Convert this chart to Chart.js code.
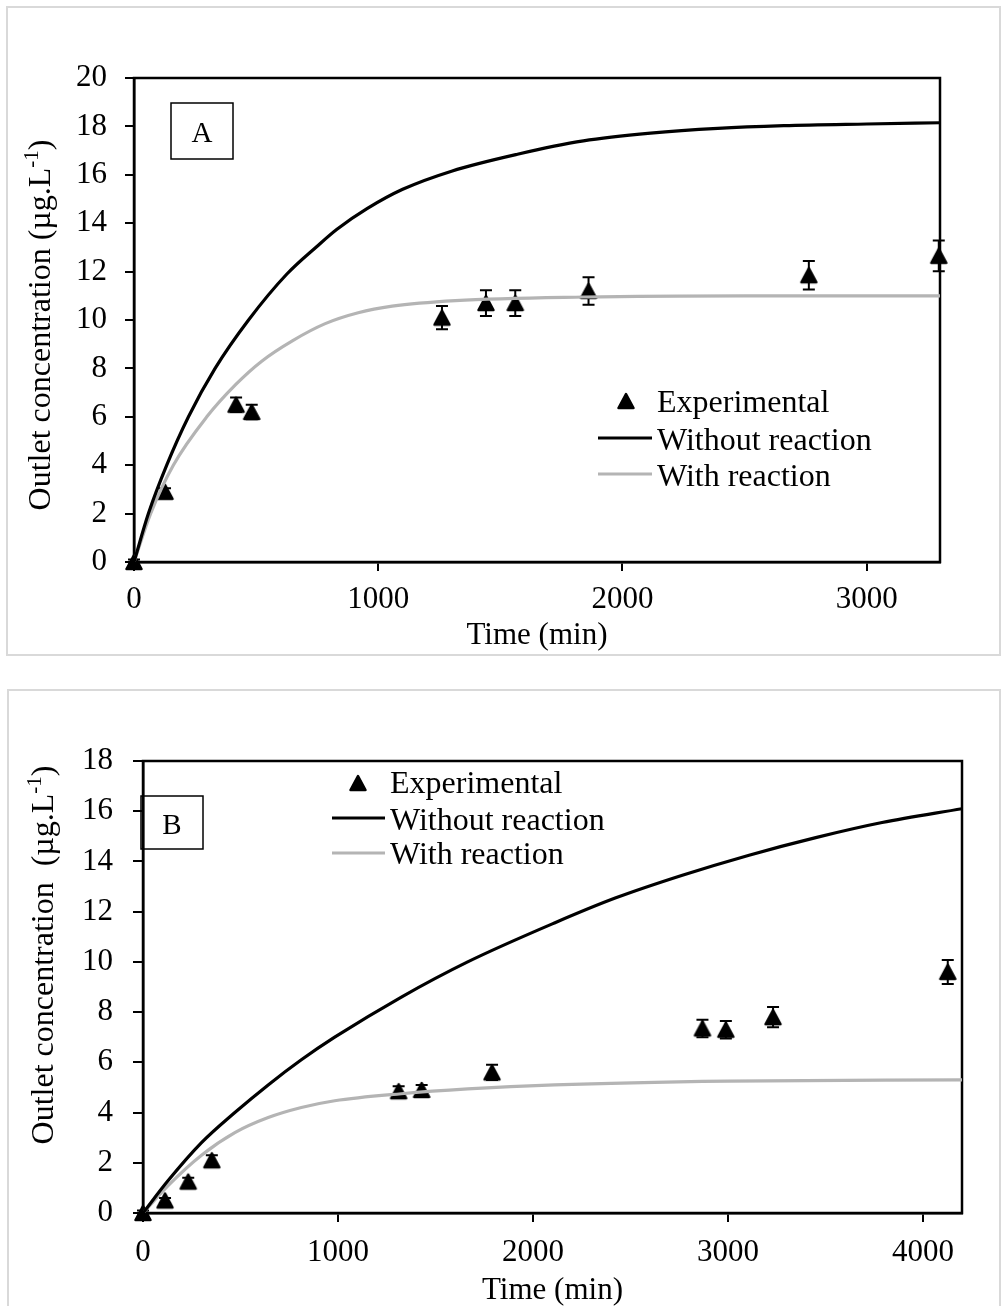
<!DOCTYPE html>
<html>
<head>
<meta charset="utf-8">
<script src="https://cdn.jsdelivr.net/npm/chart.js@4.4.1/dist/chart.umd.min.js"></script>
<style>
  html, body { margin: 0; padding: 0; background: #fff; overflow: hidden; }
  body { width: 1003px; height: 1306px; position: relative; }
  .frame { position: absolute; border: 2px solid #d9d9d9; box-sizing: border-box; }
  #frameA { left: 6px; top: 6px; width: 995px; height: 650px; }
  #frameB { left: 7px; top: 689px; width: 994px; height: 640px; }
  canvas { position: absolute; left: 0; }
  #chartA { top: 0; }
  #chartB { top: 680px; }
</style>
</head>
<body>
<div class="frame" id="frameA"></div>
<div class="frame" id="frameB"></div>
<canvas id="chartA" width="1003" height="670"></canvas>
<canvas id="chartB" width="1003" height="640"></canvas>
<script>
// --- Panel A data ---
const xTicksA = [0, 1000, 2000, 3000];
const yTicksA = [0, 2, 4, 6, 8, 10, 12, 14, 16, 18, 20];
const expTimeA = [0, 127, 418, 482, 1261, 1441, 1561, 1861, 2763, 3295];
const expConcA = [0, 2.9, 6.5, 6.2, 10.1, 10.7, 10.7, 11.2, 11.85, 12.65];
const expErrA  = [0.1, 0.15, 0.3, 0.3, 0.48, 0.53, 0.53, 0.57, 0.59, 0.64];
const noRxTimeA = [0, 59, 134, 223, 332, 469, 626, 750, 831, 954, 1100, 1300, 1570, 1840, 2115, 2390, 2660, 3000, 3300];
const noRxConcA = [0, 2.0, 4.0, 6.0, 8.0, 10.0, 11.9, 13.05, 13.75, 14.6, 15.4, 16.15, 16.85, 17.4, 17.72, 17.92, 18.03, 18.1, 18.15];
const rxTimeA = [0, 68, 161, 298, 418, 523, 650, 783, 918, 1057, 1316, 1841, 2500, 3300];
const rxConcA = [0, 2.0, 4.0, 6.0, 7.35, 8.3, 9.15, 9.85, 10.3, 10.57, 10.8, 10.95, 11.0, 11.0];

// --- Panel B data ---
const xTicksB = [0, 1000, 2000, 3000, 4000];
const yTicksB = [0, 2, 4, 6, 8, 10, 12, 14, 16, 18];
const expTimeB = [0, 113, 232, 353, 1311, 1429, 1790, 2869, 2989, 3231, 4127];
const expConcB = [0, 0.5, 1.25, 2.1, 4.85, 4.9, 5.6, 7.35, 7.3, 7.8, 9.6];
const expErrB  = [0.1, 0.1, 0.15, 0.2, 0.2, 0.2, 0.3, 0.35, 0.35, 0.4, 0.48];
const noRxTimeB = [0, 130, 300, 471, 642, 812, 983, 1325, 1665, 2110, 2425, 2766, 3108, 3450, 3790, 4200];
const noRxConcB = [0, 1.3, 2.8, 4.0, 5.1, 6.1, 7.0, 8.6, 10.0, 11.55, 12.55, 13.45, 14.25, 14.95, 15.55, 16.1];
const rxTimeB = [0, 130, 300, 471, 642, 812, 983, 1325, 1665, 2110, 3000, 4200];
const rxConcB = [0, 1.1, 2.3, 3.2, 3.8, 4.2, 4.47, 4.75, 4.94, 5.1, 5.25, 5.3];

const legendLabels = ['Experimental', 'Without reaction', 'With reaction'];
const SERIF = "'Liberation Serif', 'Times New Roman', serif";
const GREY = '#b4b4b4';

// triangle marker, centred in its own little canvas
const tri = document.createElement('canvas');
tri.width = 22; tri.height = 20;
(() => {
  const c = tri.getContext('2d');
  c.fillStyle = '#000'; c.strokeStyle = '#000';
  c.lineWidth = 2.5; c.lineJoin = 'round';
  c.beginPath();
  c.moveTo(11, 3); c.lineTo(18.5, 17); c.lineTo(3.5, 17); c.closePath();
  c.fill(); c.stroke();
})();

const pairs = (xs, ys) => xs.map((v, i) => ({ x: v, y: ys[i] }));

function makeDecor(p) {
  return {
    id: 'decor',
    beforeDatasetsDraw(chart) {
      const { ctx, chartArea: a, scales: { x, y } } = chart;
      ctx.save();
      ctx.strokeStyle = '#000';
      ctx.lineWidth = 2.5;
      ctx.strokeRect(a.left, a.top, a.right - a.left, a.bottom - a.top);
      // error bars
      ctx.lineWidth = 2;
      p.expT.forEach((t, i) => {
        const px = x.getPixelForValue(t);
        const top = y.getPixelForValue(p.expC[i] + p.expErr[i]);
        const bot = y.getPixelForValue(p.expC[i] - p.expErr[i]);
        ctx.beginPath();
        ctx.moveTo(px, top); ctx.lineTo(px, bot);
        ctx.moveTo(px - 6, top); ctx.lineTo(px + 6, top);
        ctx.moveTo(px - 6, bot); ctx.lineTo(px + 6, bot);
        ctx.stroke();
      });
      ctx.restore();
    },
    afterDraw(chart) {
      const ctx = chart.ctx;
      const L = p.legend;
      ctx.save();
      ctx.fillStyle = '#000';
      ctx.font = '32px ' + SERIF;
      ctx.textBaseline = 'alphabetic';
      ctx.textAlign = 'left';
      // legend
      ctx.drawImage(tri, L.triX - tri.width / 2, L.triY - tri.height / 2);
      ctx.lineWidth = 3.2;
      ctx.strokeStyle = '#000';
      ctx.beginPath(); ctx.moveTo(L.x0, L.lineY[0]); ctx.lineTo(L.x1, L.lineY[0]); ctx.stroke();
      ctx.strokeStyle = GREY;
      ctx.beginPath(); ctx.moveTo(L.x0, L.lineY[1]); ctx.lineTo(L.x1, L.lineY[1]); ctx.stroke();
      legendLabels.forEach((s, i) => ctx.fillText(s, L.textX, L.base[i]));

      // panel letter box
      const b = p.box;
      ctx.strokeStyle = '#000';
      ctx.lineWidth = 1.5;
      ctx.strokeRect(b.x, b.y, b.w, b.h);
      ctx.font = '29px ' + SERIF;
      ctx.textAlign = 'center';
      ctx.fillText(b.letter, b.x + b.w / 2, b.y + b.h / 2 + 11);

      // y axis title with superscript
      const yt = p.yTitle;
      ctx.translate(yt.x, yt.cy);
      ctx.rotate(-Math.PI / 2);
      ctx.textAlign = 'left';
      const big = '32px ' + SERIF, small = '21px ' + SERIF;
      ctx.font = big;
      const w1 = ctx.measureText(yt.main).width;
      const w3 = ctx.measureText(')').width;
      ctx.font = small;
      const w2 = ctx.measureText('-1').width;
      let sx = -(w1 + w2 + w3) / 2;
      ctx.font = big; ctx.fillText(yt.main, sx, 0); sx += w1;
      ctx.font = small; ctx.fillText('-1', sx, -12); sx += w2;
      ctx.font = big; ctx.fillText(')', sx, 0);
      ctx.restore();
    }
  };
}

function buildChart(id, p) {
  const font = { family: SERIF, size: 31 };
  return new Chart(document.getElementById(id), {
    type: 'line',
    data: {
      datasets: [
        { label: legendLabels[1], data: pairs(p.noRxT, p.noRxC), borderColor: '#000', borderWidth: 3.2,
          pointRadius: 0, cubicInterpolationMode: 'monotone', order: 0 },
        { label: legendLabels[2], data: pairs(p.rxT, p.rxC), borderColor: GREY, borderWidth: 3.2,
          pointRadius: 0, cubicInterpolationMode: 'monotone', order: 0 },
        { label: legendLabels[0], data: pairs(p.expT, p.expC), showLine: false, pointStyle: tri,
          pointRadius: 9, backgroundColor: '#000', borderColor: '#000', order: 1, clip: false }
      ]
    },
    options: {
      responsive: false,
      animation: false,
      events: [],
      layout: { padding: { left: 0, top: p.areaTop, right: p.padRight, bottom: 0 } },
      plugins: { legend: { display: false }, tooltip: { enabled: false } },
      scales: {
        x: {
          type: 'linear', min: 0, max: p.xMax,
          afterBuildTicks: s => { s.ticks = p.xTicks.map(v => ({ value: v })); },
          afterFit: s => { s.height = p.xAxisHeight; },
          ticks: { font, color: '#000', padding: p.xTickPad, maxRotation: 0, autoSkip: false, callback: v => String(v) },
          grid: { drawOnChartArea: false, drawTicks: true, tickLength: 9, lineWidth: 2, color: '#000' },
          border: { display: true, color: '#000', width: 2.5 },
          title: { display: true, text: 'Time (min)', font, color: '#000', padding: { top: 0, bottom: p.xTitlePad } }
        },
        y: {
          type: 'linear', min: 0, max: p.yMax,
          afterBuildTicks: s => { s.ticks = p.yTicks.map(v => ({ value: v })); },
          afterFit: s => { s.width = p.yAxisWidth; },
          ticks: { font, color: '#000', padding: p.yTickPad, autoSkip: false, callback: v => String(v) },
          grid: { drawOnChartArea: false, drawTicks: true, tickLength: p.yTickLen, lineWidth: 2, color: '#000' },
          border: { display: true, color: '#000', width: 2.5 }
        }
      }
    },
    plugins: [makeDecor(p)]
  });
}

buildChart('chartA', {
  expT: expTimeA, expC: expConcA, expErr: expErrA,
  noRxT: noRxTimeA, noRxC: noRxConcA, rxT: rxTimeA, rxC: rxConcA,
  xTicks: xTicksA, yTicks: yTicksA, xMax: 3300, yMax: 20,
  areaTop: 78, padRight: 63, yAxisWidth: 134, xAxisHeight: 108,
  xTickPad: 10, xTitlePad: 16, yTickPad: 18, yTickLen: 9,
  legend: { triX: 626, triY: 401, x0: 598, x1: 652, textX: 657, lineY: [438, 474], base: [412, 450, 486] },
  box: { x: 171, y: 103, w: 62, h: 56, letter: 'A' },
  yTitle: { x: 50, cy: 325, main: 'Outlet concentration (\u00b5g.L' }
});

buildChart('chartB', {
  expT: expTimeB, expC: expConcB, expErr: expErrB,
  noRxT: noRxTimeB, noRxC: noRxConcB, rxT: rxTimeB, rxC: rxConcB,
  xTicks: xTicksB, yTicks: yTicksB, xMax: 4200, yMax: 18,
  areaTop: 81, padRight: 41, yAxisWidth: 143, xAxisHeight: 107,
  xTickPad: 12, xTitlePad: 11, yTickPad: 20, yTickLen: 10,
  legend: { triX: 358, triY: 103, x0: 332, x1: 385, textX: 390, lineY: [138, 173], base: [113, 150, 184] },
  box: { x: 141, y: 116, w: 62, h: 53, letter: 'B' },
  yTitle: { x: 53, cy: 275, main: 'Outlet concentration  (\u00b5g.L' }
});
</script>
</body>
</html>
